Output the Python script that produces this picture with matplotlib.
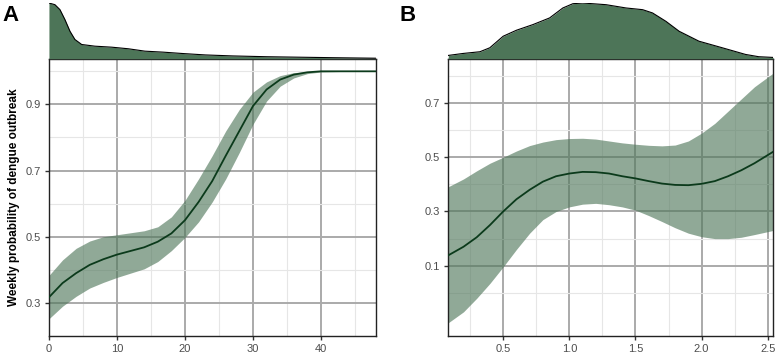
import matplotlib
matplotlib.use("Agg")
import matplotlib.pyplot as plt
import numpy as np

plt.rcParams['font.family'] = ['Liberation Sans', 'DejaVu Sans']

# Panel A: fitted probability vs predictor
a_x = [0, 2, 4, 6, 8, 10, 12, 14, 16, 18, 20, 22, 24, 26, 28, 30, 32, 34, 36, 38, 40, 44, 48]
a_fit = [0.317, 0.36, 0.39, 0.415, 0.432, 0.446, 0.457, 0.468, 0.485, 0.51, 0.55, 0.605,
         0.668, 0.745, 0.82, 0.895, 0.945, 0.975, 0.99, 0.997, 1.0, 1.0, 1.0]
a_upper = [0.383, 0.43, 0.465, 0.487, 0.5, 0.506, 0.512, 0.518, 0.53, 0.56, 0.61, 0.675,
           0.745, 0.82, 0.885, 0.937, 0.968, 0.987, 0.996, 0.999, 1.0, 1.0, 1.0]
a_lower = [0.252, 0.29, 0.32, 0.345, 0.362, 0.377, 0.39, 0.403, 0.425, 0.458, 0.498, 0.545,
           0.605, 0.675, 0.755, 0.84, 0.91, 0.955, 0.98, 0.993, 0.998, 1.0, 1.0]

# Panel A: marginal density of the predictor
a_dens_x = [0, 0.88, 1.62, 2.35, 3.09, 3.82, 4.81, 6.76, 9.22, 11.66, 14.1, 16.8, 19.7,
            23, 27, 32, 37, 42, 48]
a_dens_y = [56, 54.3, 49.3, 39.3, 27.6, 19.3, 14.3, 12.6, 11.6, 10, 7.6, 6.6, 5.2,
            3.8, 2.8, 2.0, 1.5, 1.0, 0.5]

# Panel B
b_x = [0.08, 0.2, 0.3, 0.4, 0.5, 0.6, 0.7, 0.8, 0.9, 1.0, 1.1, 1.2, 1.3, 1.4, 1.5, 1.6,
       1.7, 1.8, 1.9, 2.0, 2.1, 2.2, 2.3, 2.4, 2.54]
b_fit = [0.137, 0.17, 0.205, 0.25, 0.30, 0.345, 0.38, 0.41, 0.43, 0.44, 0.446, 0.445, 0.44,
         0.43, 0.422, 0.412, 0.403, 0.398, 0.397, 0.402, 0.412, 0.43, 0.452, 0.478, 0.52]
b_upper = [0.39, 0.42, 0.45, 0.478, 0.50, 0.523, 0.543, 0.556, 0.565, 0.569, 0.57, 0.567,
           0.56, 0.553, 0.548, 0.544, 0.542, 0.545, 0.56, 0.589, 0.625, 0.67, 0.715, 0.76, 0.81]
b_lower = [-0.112, -0.07, -0.02, 0.035, 0.096, 0.16, 0.22, 0.27, 0.30, 0.317, 0.327, 0.33,
           0.325, 0.317, 0.305, 0.285, 0.263, 0.24, 0.22, 0.207, 0.2, 0.2, 0.205, 0.215, 0.23]

b_dens_x = [0.085, 0.198, 0.324, 0.399, 0.5, 0.6, 0.725, 0.851, 0.951, 1.027, 1.102,
            1.278, 1.429, 1.554, 1.629, 1.73, 1.83, 1.98, 2.156, 2.332, 2.432, 2.54]
b_dens_y = [3.3, 5.3, 7, 11, 22.6, 28.6, 34.3, 41, 51, 55.3, 56, 54.3, 51, 49.3, 46,
            37.6, 27.6, 17.6, 11, 4.3, 2, 1.3]

a_xticks = [0, 10, 20, 30, 40]
a_yticks = [0.3, 0.5, 0.7, 0.9]
b_xticks = [0.5, 1.0, 1.5, 2.0, 2.5]
b_yticks = [0.1, 0.3, 0.5, 0.7]

DENS = '#4d7558'
LINE = '#0b3a1b'


def style_main(ax, xticks, yticks, xminor, yminor, xlim, ylim):
    ax.set_xlim(*xlim)
    ax.set_ylim(*ylim)
    ax.set_xticks(xticks)
    ax.set_yticks(yticks)
    ax.set_xticks(xminor, minor=True)
    ax.set_yticks(yminor, minor=True)
    ax.grid(True, which='major', color='#aaaaaa', lw=1.4, zorder=0)
    ax.grid(True, which='minor', color='#e6e6e6', lw=0.8, zorder=0)
    ax.set_axisbelow(True)
    ax.tick_params(which='major', length=3, width=1, color='#333333',
                   labelsize=8, labelcolor='#4d4d4d', pad=3)
    ax.tick_params(which='minor', length=0)
    for s in ax.spines.values():
        s.set_color('#222222')
        s.set_linewidth(1)


def draw_density(ax, x, y, xlim):
    ax.fill_between(x, 0, y, color=DENS, lw=0)
    ax.plot(x, y, color='black', lw=0.8)
    ax.set_xlim(*xlim)
    ax.set_ylim(0, 56.5)
    ax.set_axis_off()


fig = plt.figure(figsize=(7.77, 3.58), dpi=100)

# Panel A
axA = fig.add_axes([0.063, 0.0615, 0.421, 0.7735])
axA.fill_between(a_x, a_lower, a_upper, color=DENS, alpha=0.62, lw=0, zorder=2)
axA.plot(a_x, a_fit, color=LINE, lw=1.3, zorder=3)
style_main(axA, a_xticks, a_yticks, [5, 15, 25, 35, 45], [0.2, 0.4, 0.6, 0.8, 1.0],
           (0, 48.1), (0.21, 1.037))
axA.set_xticklabels([str(t) for t in a_xticks])
axA.set_ylabel('Weekly probability of dengue outbreak', fontsize=8.5,
               fontweight='bold', labelpad=4)

dA = fig.add_axes([0.063, 0.836, 0.421, 0.157])
draw_density(dA, a_dens_x, a_dens_y, (0, 48.1))

# Panel B
axB = fig.add_axes([0.5766, 0.0615, 0.4183, 0.7735])
axB.fill_between(b_x, b_lower, b_upper, color=DENS, alpha=0.62, lw=0, zorder=2)
axB.plot(b_x, b_fit, color=LINE, lw=1.3, zorder=3)
style_main(axB, b_xticks, b_yticks, [0.25, 0.75, 1.25, 1.75, 2.25],
           [0.0, 0.2, 0.4, 0.6, 0.8], (0.083, 2.54), (-0.159, 0.862))
axB.set_xticklabels(['0.5', '1.0', '1.5', '2.0', '2.5'])

dB = fig.add_axes([0.5766, 0.836, 0.4183, 0.157])
draw_density(dB, b_dens_x, b_dens_y, (0.083, 2.54))

fig.text(0.003, 0.985, 'A', fontsize=16, fontweight='bold', va='top', ha='left')
fig.text(0.514, 0.985, 'B', fontsize=16, fontweight='bold', va='top', ha='left')

fig.savefig('out.png', dpi=100)
